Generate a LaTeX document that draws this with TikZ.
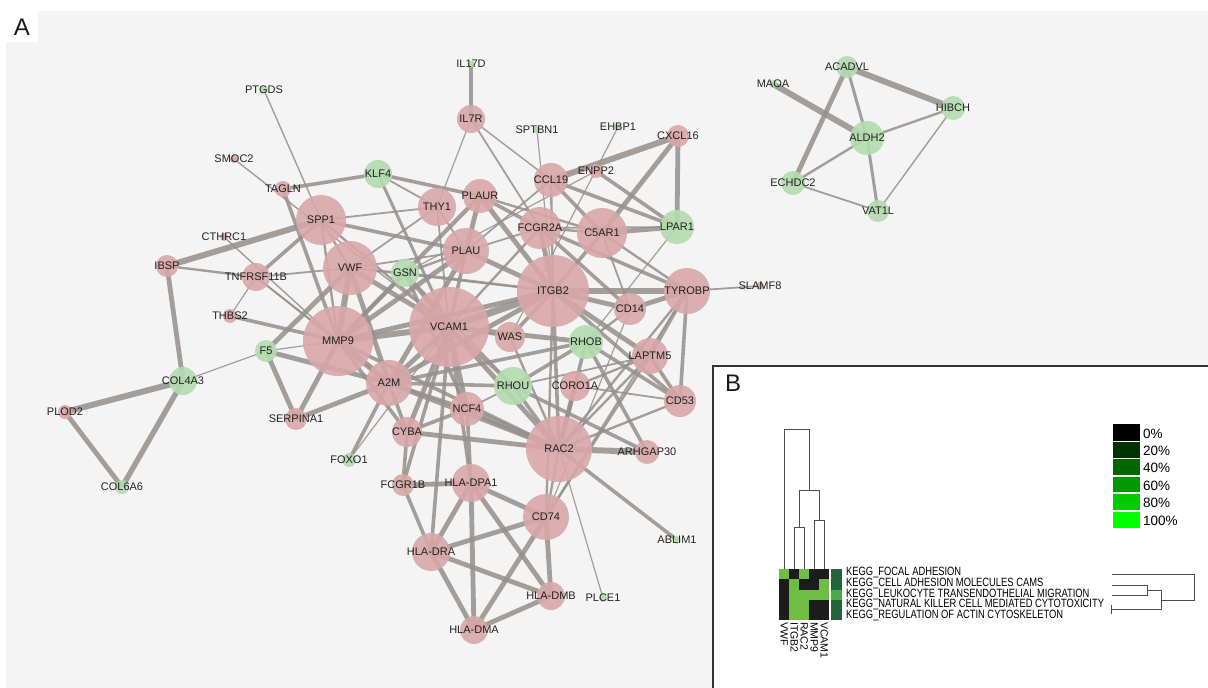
\documentclass[tikz,border=0pt]{standalone}
\usepackage{fontspec}
\setmainfont{Liberation Sans}
\newfontfamily\narrowfont[FakeStretch=0.78]{Liberation Sans}
\pgfdeclarelayer{bglayer}
\pgfdeclarelayer{edgelayer}
\pgfdeclarelayer{labellayer}
\pgfsetlayers{bglayer,edgelayer,main,labellayer}
\definecolor{pinkc}{HTML}{D9A7A8}
\definecolor{greenc}{HTML}{B3DCAF}
\definecolor{edgec}{RGB}{151,144,140}
\definecolor{bgA}{HTML}{F4F4F4}
\definecolor{lblc}{HTML}{222222}
\definecolor{hg}{HTML}{6EBE46}
\definecolor{hb}{HTML}{1C1C1C}
\definecolor{sd}{HTML}{23643C}
\definecolor{sl}{HTML}{4BAA48}
\begin{document}
\begin{tikzpicture}[x=1pt,y=-1pt,
  pnode/.style={circle,fill=pinkc,fill opacity=0.9,inner sep=0pt,draw=none},
  gnode/.style={circle,fill=greenc,fill opacity=0.9,inner sep=0pt,draw=none},
  lbl/.style={font=\fontsize{11}{13}\selectfont,text=lblc,inner sep=0pt},
  lnk/.style={draw=edgec,draw opacity=0.85},
  dend/.style={draw=black!70,line width=0.8pt}]
\useasboundingbox (0,0) rectangle (1208,688);
\begin{pgfonlayer}{bglayer}
\fill[white] (0,0) rectangle (1208,688);
\fill[bgA] (6,11) rectangle (1208,688);
\fill[white] (6,11) rectangle (38,42);
\end{pgfonlayer}
\node[font=\fontsize{24}{26}\selectfont,text=black!90] (labA) at (22,27) {A};

% nodes
\foreach \n/\x/\y/\d/\c/\t in {
PTGDS/264/90/8/gnode/PTGDS, IL17D/471/64/7/gnode/IL17D, IL7R/471/119/28/pnode/IL7R,
SPTBN1/537/130/7/gnode/SPTBN1, EHBP1/618/127/7/gnode/EHBP1, CXCL16/678/136/22/pnode/CXCL16,
SMOC2/234/159/8/pnode/SMOC2, TAGLN/283/189/16/pnode/TAGLN, KLF4/378/174/28/gnode/KLF4,
THY1/437/207/38/pnode/THY1, PLAUR/480/196/34/pnode/PLAUR, CCL19/551/180/34/pnode/CCL19,
ENPP2/596/171/14/pnode/ENPP2, SPP1/321/220/50/pnode/SPP1, FCGR2A/540/228/42/pnode/FCGR2A,
C5AR1/602/233/50/pnode/C5AR1, LPAR1/677/227/34/gnode/LPAR1, CTHRC1/224/237/8/pnode/CTHRC1,
IBSP/167/266/22/pnode/IBSP, TNFRSF11B/256/277/28/pnode/TNFRSF11B, VWF/350/268/54/pnode/VWF,
GSN/405/273/28/gnode/GSN, PLAU/466/251/46/pnode/PLAU, ITGB2/553/291/72/pnode/ITGB2,
TYROBP/687/291/46/pnode/TYROBP, SLAMF8/760/286/8/pnode/SLAMF8, CD14/630/309/32/pnode/CD14,
THBS2/230/316/14/pnode/THBS2, MMP9/338/341/70/pnode/MMP9, VCAM1/449/327/80/pnode/VCAM1,
WAS/510/337/30/pnode/WAS, RHOB/586/342/34/gnode/RHOB, LAPTM5/650/356/36/pnode/LAPTM5,
F5/266/351/22/gnode/F5, COL4A3/183/381/28/gnode/COL4A3, A2M/389/383/46/pnode/A2M,
RHOU/513/386/38/gnode/RHOU, CORO1A/575/386/30/pnode/CORO1A, CD53/680/401/32/pnode/CD53,
PLOD2/65/412/14/pnode/PLOD2, SERPINA1/296/419/22/pnode/SERPINA1, NCF4/467/409/34/pnode/NCF4,
CYBA/407/432/30/pnode/CYBA, RAC2/559/449/66/pnode/RAC2, ARHGAP30/647/452/24/pnode/ARHGAP30,
FOXO1/349/460/14/gnode/FOXO1, COL6A6/122/487/14/gnode/COL6A6, FCGR1B/403/485/22/pnode/FCGR1B,
HLADPA1/471/483/38/pnode/HLA-DPA1, CD74/546/517/46/pnode/CD74, ABLIM1/677/540/8/gnode/ABLIM1,
HLADRA/431/552/38/pnode/HLA-DRA, HLADMB/551/596/28/pnode/HLA-DMB, PLCE1/603/598/8/gnode/PLCE1,
HLADMA/474/630/28/pnode/HLA-DMA,
ACADVL/847/67/22/gnode/ACADVL, MAOA/773/84/8/gnode/MAOA, HIBCH/953/108/24/gnode/HIBCH,
ALDH2/867/138/34/gnode/ALDH2, ECHDC2/793/183/24/gnode/ECHDC2, VAT1L/878/211/22/gnode/VAT1L}
{
  \node[\c,minimum size=\d pt] (\n) at (\x,\y) {};
  \begin{pgfonlayer}{labellayer}
    \node[lbl] at (\n) {\t};
  \end{pgfonlayer}
}

% edges
\begin{pgfonlayer}{edgelayer}
\foreach \a/\b/\w in {
IBSP/COL4A3/4, COL4A3/PLOD2/5, COL4A3/COL6A6/4.5, PLOD2/COL6A6/4, COL4A3/F5/1, F5/MMP9/1,
IBSP/SPP1/5, IBSP/TNFRSF11B/2, F5/SERPINA1/4, F5/VWF/4, F5/A2M/4, SERPINA1/MMP9/4,
SERPINA1/A2M/4, THBS2/MMP9/3, THBS2/TNFRSF11B/1, TNFRSF11B/SPP1/3, TNFRSF11B/VWF/1.5,
TNFRSF11B/MMP9/1.5, TNFRSF11B/A2M/1.2, CTHRC1/MMP9/1.2, SMOC2/VCAM1/1.2, PTGDS/SPP1/1.2,
TAGLN/KLF4/3, TAGLN/MMP9/3, KLF4/PLAUR/3, KLF4/THY1/1.5, KLF4/VCAM1/2.5,
SPP1/THY1/1.5, SPP1/PLAU/3, SPP1/VCAM1/2, SPP1/MMP9/2, SPP1/VWF/2,
VWF/MMP9/5, VWF/VCAM1/4, VWF/PLAU/1.5, VWF/THY1/1.5, VWF/A2M/4, VWF/ITGB2/1.5, VWF/GSN/1.5,
MMP9/VCAM1/5, MMP9/A2M/5, MMP9/PLAU/4, MMP9/ITGB2/4, MMP9/PLAUR/3.5, MMP9/GSN/3, MMP9/CYBA/3, MMP9/RAC2/3,
VCAM1/ITGB2/6, VCAM1/A2M/4, VCAM1/NCF4/4, VCAM1/CYBA/4, VCAM1/RAC2/4, VCAM1/HLADRA/3,
VCAM1/FCGR1B/3, VCAM1/HLADPA1/3, VCAM1/RHOB/4, VCAM1/WAS/2, VCAM1/FCGR2A/2, VCAM1/PLAU/3,
VCAM1/GSN/3, VCAM1/RHOU/2.5, VCAM1/THY1/1.5,
ITGB2/TYROBP/5, ITGB2/CD14/4, ITGB2/FCGR2A/4, ITGB2/C5AR1/3, ITGB2/PLAU/4, ITGB2/PLAUR/4,
ITGB2/RAC2/3, ITGB2/WAS/3, ITGB2/LAPTM5/4, ITGB2/CD53/3, ITGB2/CCL19/2, ITGB2/A2M/4,
ITGB2/CD74/2, ITGB2/GSN/2,
RAC2/RHOU/3, RAC2/CORO1A/4, RAC2/RHOB/3, RAC2/NCF4/5, RAC2/CYBA/4, RAC2/ARHGAP30/5,
RAC2/LAPTM5/2, RAC2/CD53/2, RAC2/ABLIM1/3, RAC2/PLCE1/1, RAC2/CD74/2, RAC2/A2M/4,
RAC2/WAS/2, RAC2/TYROBP/2,
HLADPA1/FCGR1B/4, HLADPA1/CD74/4, HLADPA1/HLADRA/4, HLADPA1/HLADMA/4, HLADPA1/HLADMB/4,
CD74/HLADRA/4, CD74/HLADMA/4, CD74/HLADMB/4, HLADRA/HLADMB/4, HLADRA/HLADMA/4,
HLADMA/HLADMB/4, FCGR1B/HLADRA/3, NCF4/HLADPA1/3, CYBA/FCGR1B/3, CYBA/NCF4/3,
FOXO1/A2M/3, FOXO1/VCAM1/1,
IL17D/IL7R/4, IL7R/THY1/1, IL7R/CCL19/1.2, IL7R/FCGR2A/1.5, SPTBN1/ITGB2/1, EHBP1/WAS/1,
CXCL16/CCL19/5, CXCL16/C5AR1/4, CXCL16/LPAR1/4, ENPP2/LPAR1/3, ENPP2/GSN/1,
CCL19/LPAR1/3, CCL19/C5AR1/3, CCL19/PLAU/1.5,
FCGR2A/C5AR1/2, FCGR2A/TYROBP/3, FCGR2A/CD14/3, FCGR2A/PLAU/1.5, FCGR2A/PLAUR/3, FCGR2A/LPAR1/1.5,
PLAUR/C5AR1/2, C5AR1/LPAR1/4, C5AR1/TYROBP/2, C5AR1/CD14/1.5, LPAR1/RHOB/1,
TYROBP/SLAMF8/1.5, TYROBP/CD14/4, TYROBP/LAPTM5/3, TYROBP/CD53/3, TYROBP/CD74/1.5,
CD14/RHOB/2, CD14/CD74/1, LAPTM5/CD53/3, LAPTM5/RHOU/1.5, LAPTM5/CD74/2, LAPTM5/CORO1A/2,
CD53/CORO1A/1.5, CD53/RHOB/3, RHOB/ARHGAP30/3, RHOB/RHOU/3, RHOB/A2M/3,
RHOU/NCF4/1.5, RHOU/A2M/3, RHOU/ARHGAP30/3, NCF4/A2M/3, A2M/CYBA/3,
PLAU/PLAUR/4, PLAU/GSN/2, PLAU/A2M/4, PLAU/THY1/1.5, GSN/NCF4/3, GSN/RHOU/2,
MAOA/ALDH2/5, ACADVL/HIBCH/5, ACADVL/ECHDC2/4, ACADVL/ALDH2/2.5, ALDH2/HIBCH/2,
ALDH2/ECHDC2/2, ALDH2/VAT1L/2.5, ECHDC2/VAT1L/1.5, HIBCH/VAT1L/1.2}
{
  \draw[lnk,line width=1.2*\w pt] (\a.center) -- (\b.center);
}
\end{pgfonlayer}

% ---------- panel B ----------
\begin{pgfonlayer}{labellayer}
\fill[white] (713,366) rectangle (1208,688);
\draw[line width=2pt,draw=black!80] (713,688) -- (713,366) -- (1208,366);
\node[font=\fontsize{24}{26}\selectfont,text=black!90] (labB) at (733,383) {B};

% heatmap cells
\foreach \row [count=\j from 0] in {{hg,hb,hg,hb,hb},{hb,hg,hb,hb,hg},{hb,hg,hg,hg,hg},{hb,hg,hg,hb,hb},{hb,hg,hg,hb,hb}}{
  \foreach \col [count=\i from 0] in \row {
    \fill[\col] ({779.3+10*\i},{569.3+10.15*\j}) rectangle ({789.3+10*\i},{579.45+10.15*\j});
  }
}
\foreach \col [count=\j from 0] in {sd,sd,sl,sd,sd}{
  \fill[\col] (831,{569.3+10.15*\j}) rectangle (842,{579.45+10.15*\j});
}
% column dendrogram
\draw[dend] (784.3,569.3) -- (784.3,429.3) -- (809.3,429.3) -- (809.3,490);
\draw[dend] (799.3,527.3) -- (799.3,490) -- (819.3,490) -- (819.3,520.7);
\draw[dend] (794.3,569.3) -- (794.3,527.3) -- (804.3,527.3) -- (804.3,569.3);
\draw[dend] (814.3,569.3) -- (814.3,520.7) -- (824.3,520.7) -- (824.3,569.3);
% column labels
\foreach \x/\t in {784.3/VWF,794.3/ITGB2,804.3/RAC2,814.3/MMP9,824.3/VCAM1}{
  \node[rotate=-90,anchor=west,inner sep=0pt,font=\fontsize{10.5}{12}\selectfont] at (\x,622) {\t};
}
% row labels
\foreach \y/\t in {572.3/KEGG\_FOCAL ADHESION, 583.3/KEGG\_CELL ADHESION MOLECULES CAMS,
  594.3/KEGG\_LEUKOCYTE TRANSENDOTHELIAL MIGRATION, 604.5/KEGG\_NATURAL KILLER CELL MEDIATED CYTOTOXICITY,
  615/KEGG\_REGULATION OF ACTIN CYTOSKELETON}{
  \node[anchor=west,inner sep=0pt,font=\narrowfont\fontsize{12}{13}\selectfont] at (846,\y) {\t};
}
% row dendrogram
\draw[dend] (1111.7,574.3) -- (1194,574.3) -- (1194,600) -- (1161,600);
\draw[dend] (1111.7,585) -- (1147.3,585) -- (1147.3,595) -- (1111.7,595);
\draw[dend] (1147.3,590) -- (1161,590) -- (1161,609.3) -- (1111.7,609.3);
\draw[dend] (1111.7,605) -- (1111.7,613.5);
% legend
\foreach \c/\t/\ya/\yb [count=\k] in {black/0\%/424/440.7, {rgb,255:red,0;green,51;blue,0}/20\%/441.7/458.3,
  {rgb,255:red,0;green,102;blue,0}/40\%/459.3/475, {rgb,255:red,0;green,153;blue,0}/60\%/476.7/492.3,
  {rgb,255:red,0;green,204;blue,0}/80\%/494/510, {rgb,255:red,0;green,255;blue,0}/100\%/511.7/527.7}{
  \fill[color=\c] (1113.3,\ya) rectangle (1140,\yb);
  \node[anchor=west,inner sep=0pt,font=\fontsize{13.5}{15}\selectfont] at (1143,{(\ya+\yb)/2+1}) {\t};
}
\end{pgfonlayer}
\end{tikzpicture}
\end{document}
